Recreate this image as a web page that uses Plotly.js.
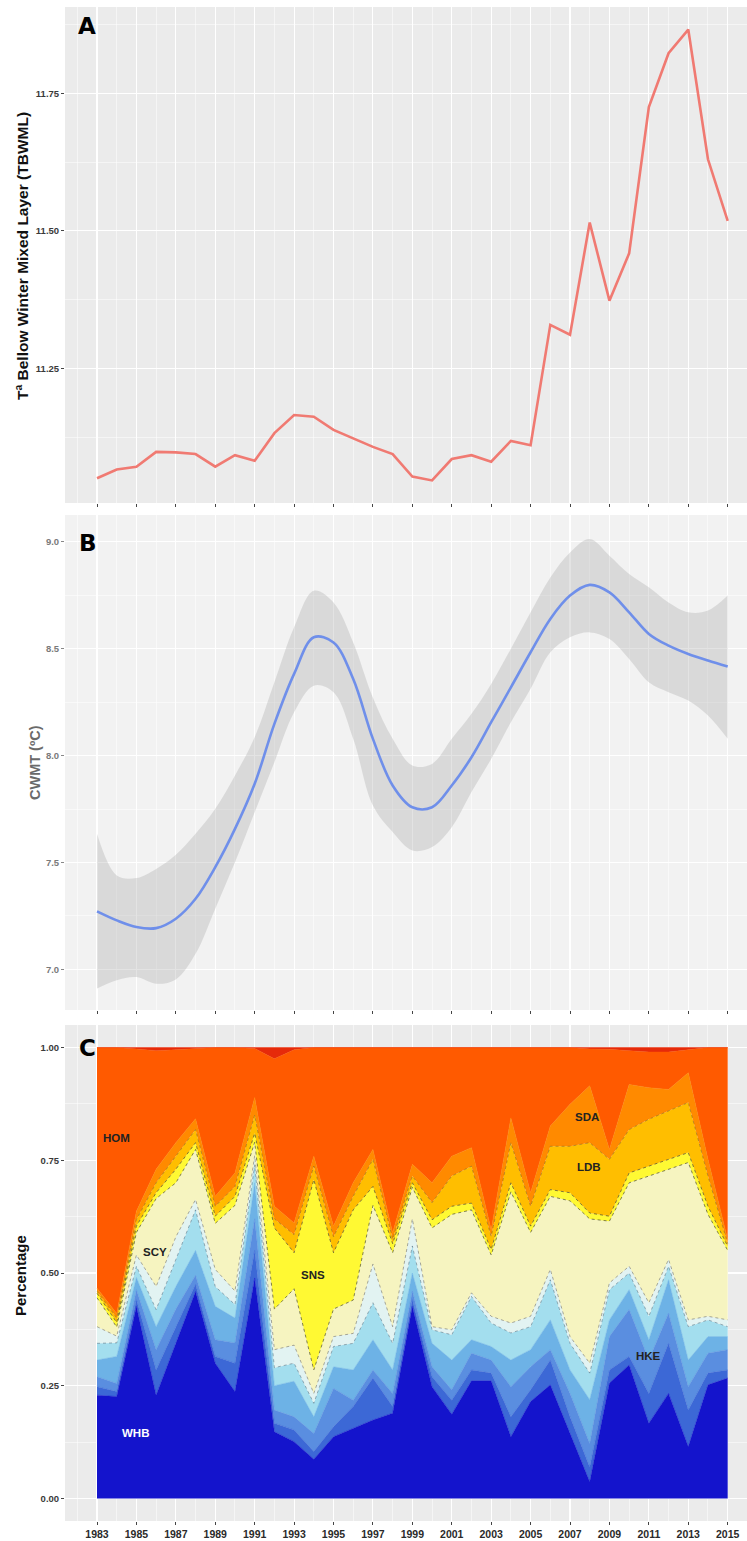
<!DOCTYPE html>
<html>
<head>
<meta charset="utf-8">
<script src="https://cdn.plot.ly/plotly-3.0.1.min.js"></script>
<style>html,body{margin:0;padding:0;background:#fff;}#chart{width:747px;height:1541px;}</style>
</head>
<body>
<div id="chart"></div>
<script>
// ---------- DATA ----------
const years = [1983,1984,1985,1986,1987,1988,1989,1990,1991,1992,1993,1994,1995,1996,1997,1998,1999,2000,2001,2002,2003,2004,2005,2006,2007,2008,2009,2010,2011,2012,2013,2014,2015];
const yearTicks = [1983,1985,1987,1989,1991,1993,1995,1997,1999,2001,2003,2005,2007,2009,2011,2013,2015];

// Panel A: temperature below winter mixed layer
const tbwml = [11.050,11.066,11.071,11.098,11.097,11.094,11.071,11.092,11.082,11.132,11.165,11.162,11.138,11.123,11.107,11.094,11.053,11.046,11.085,11.092,11.080,11.118,11.110,11.329,11.311,11.515,11.373,11.459,11.725,11.823,11.866,11.630,11.518];

// Panel B: CWMT smooth and confidence band
const cwmt = [7.271,7.229,7.198,7.193,7.237,7.330,7.478,7.657,7.868,8.148,8.382,8.553,8.529,8.358,8.078,7.860,7.758,7.758,7.860,7.992,8.156,8.319,8.483,8.639,8.748,8.798,8.763,8.670,8.569,8.514,8.475,8.444,8.416];
const cwmtUpper = [7.634,7.439,7.427,7.470,7.536,7.634,7.751,7.907,8.086,8.343,8.600,8.771,8.716,8.529,8.270,8.078,7.953,7.961,8.078,8.195,8.335,8.500,8.670,8.833,8.950,9.013,8.935,8.849,8.787,8.716,8.670,8.678,8.748];
const cwmtLower = [6.910,6.949,6.964,6.933,6.953,7.073,7.284,7.501,7.735,7.969,8.202,8.327,8.296,8.078,7.766,7.642,7.556,7.572,7.665,7.829,7.984,8.156,8.312,8.483,8.553,8.576,8.545,8.452,8.343,8.296,8.257,8.187,8.078];

// Panel C: cumulative proportions (top edge of each stacked group)
const topWHB   = [.229,.226,.426,.229,.344,.459,.300,.237,.489,.148,.126,.087,.137,.156,.174,.189,.426,.248,.187,.261,.261,.137,.215,.252,.144,.037,.256,.296,.167,.233,.115,.252,.267];
const topBlue2 = [.248,.237,.441,.285,.380,.475,.315,.300,.550,.167,.152,.104,.159,.204,.267,.204,.441,.270,.218,.285,.278,.181,.241,.307,.181,.070,.285,.315,.233,.344,.196,.278,.285];
const topBlue3 = [.270,.255,.463,.330,.420,.495,.352,.345,.620,.196,.181,.144,.244,.218,.285,.233,.460,.292,.241,.322,.307,.248,.292,.330,.233,.122,.359,.419,.307,.411,.248,.322,.330];
const topHKE   = [.307,.315,.490,.381,.470,.550,.426,.400,.700,.250,.260,.181,.292,.285,.352,.285,.500,.344,.307,.352,.337,.307,.330,.396,.285,.219,.396,.463,.352,.485,.307,.359,.359];
const topCyan  = [.344,.345,.515,.419,.530,.640,.470,.430,.740,.290,.300,.211,.337,.344,.434,.344,.560,.374,.363,.448,.389,.367,.381,.485,.344,.278,.463,.500,.404,.515,.381,.396,.381];
const topPale  = [.381,.360,.540,.470,.580,.663,.508,.460,.760,.330,.340,.233,.359,.366,.520,.381,.620,.381,.374,.456,.404,.389,.404,.508,.359,.300,.478,.515,.434,.530,.396,.404,.396];
const topSCY   = [.445,.380,.590,.665,.700,.774,.610,.650,.790,.420,.465,.285,.420,.440,.650,.545,.690,.600,.630,.640,.540,.680,.590,.670,.660,.620,.615,.700,.715,.730,.745,.630,.550];
const topSNS   = [.455,.390,.604,.678,.730,.789,.626,.670,.810,.600,.545,.707,.545,.640,.692,.565,.700,.618,.648,.655,.552,.700,.604,.685,.678,.633,.626,.722,.737,.752,.767,.648,.559];
const topLDB   = [.460,.400,.618,.700,.759,.818,.648,.692,.850,.620,.585,.737,.580,.670,.752,.575,.715,.656,.715,.737,.581,.789,.648,.781,.781,.789,.752,.818,.841,.859,.878,.715,.565];
const topSDA   = [.466,.410,.637,.730,.789,.842,.670,.722,.889,.648,.611,.759,.604,.700,.774,.589,.741,.700,.759,.778,.596,.844,.678,.826,.874,.915,.774,.918,.911,.907,.944,.752,.574];
const topHOM   = [1.0,1.0,.997,.993,.995,.997,1.0,1.0,.998,.975,.995,1.0,1.0,1.0,1.0,1.0,1.0,1.0,1.0,1.0,1.0,1.0,1.0,1.0,1.0,.997,.996,.993,.990,.990,.995,1.0,1.0];
const topAll   = [1,1,1,1,1,1,1,1,1,1,1,1,1,1,1,1,1,1,1,1,1,1,1,1,1,1,1,1,1,1,1,1,1];

const speciesLabels = [
  {text:'HOM', x:1984.0, y:0.80, color:'#222'},
  {text:'SCY', x:1985.95, y:0.547, color:'#222'},
  {text:'SNS', x:1993.96, y:0.496, color:'#222'},
  {text:'WHB', x:1984.93, y:0.145, color:'#ffffff'},
  {text:'SDA', x:2007.86, y:0.847, color:'#222'},
  {text:'LDB', x:2007.96, y:0.736, color:'#222'},
  {text:'HKE', x:2010.96, y:0.316, color:'#222'}
];

// ---------- TRACES ----------
const traces = [];
traces.push({x:years, y:tbwml, type:'scatter', mode:'lines', xaxis:'x', yaxis:'y',
  line:{color:'#F07A72', width:2.6}, hoverinfo:'skip', showlegend:false});

traces.push({x:years, y:cwmtLower, type:'scatter', mode:'lines', xaxis:'x2', yaxis:'y2',
  line:{width:0, shape:'spline', smoothing:1}, showlegend:false, hoverinfo:'skip'});
traces.push({x:years, y:cwmtUpper, type:'scatter', mode:'lines', xaxis:'x2', yaxis:'y2',
  fill:'tonexty', fillcolor:'rgba(150,150,150,0.27)',
  line:{width:0, shape:'spline', smoothing:1}, showlegend:false, hoverinfo:'skip'});
traces.push({x:years, y:cwmt, type:'scatter', mode:'lines', xaxis:'x2', yaxis:'y2',
  line:{color:'#6F8FEA', width:2.6, shape:'spline', smoothing:1}, showlegend:false, hoverinfo:'skip'});

const dotted = {dash:'dot', color:'rgba(70,70,40,0.75)', width:0.9};
const layers = [
  {y:topWHB,   fill:'#1414CC', line:{color:'#1414CC', width:0.5}},
  {y:topBlue2, fill:'#3C68D6', line:{color:'#3C68D6', width:0.5}},
  {y:topBlue3, fill:'#5A8EE0', line:{color:'#5A8EE0', width:0.5}},
  {y:topHKE,   fill:'#6DB2E6', line:{color:'#6DB2E6', width:0.5}},
  {y:topCyan,  fill:'#A3DEEE', line:{dash:'dot', color:'rgba(60,90,110,0.6)', width:0.8}},
  {y:topPale,  fill:'#E2F3F2', line:{dash:'dot', color:'rgba(80,80,80,0.6)', width:0.8}},
  {y:topSCY,   fill:'#F6F4C0', line:dotted},
  {y:topSNS,   fill:'#FFF933', line:dotted},
  {y:topLDB,   fill:'#FFBE00', line:{dash:'dot', color:'rgba(120,90,0,0.6)', width:0.8}},
  {y:topSDA,   fill:'#FF8A00', line:{color:'#FF8A00', width:0.5}},
  {y:topHOM,   fill:'#FF5A00', line:{color:'#FF5A00', width:0.5}},
  {y:topAll,   fill:'#E62A0A', line:{color:'#E62A0A', width:0.5}}
];
layers.forEach((L, i) => {
  traces.push({x:years, y:L.y, type:'scatter', mode:'lines', xaxis:'x3', yaxis:'y3',
    fill: i === 0 ? 'tozeroy' : 'tonexty', fillcolor:L.fill, line:L.line,
    showlegend:false, hoverinfo:'skip'});
});

// ---------- LAYOUT ----------
const W = 747, H = 1541;
const px = v => v / W;
const py = v => 1 - v / H;
const xRange = [1981.376, 2015.98];
const tickFontDark = {family:'Liberation Sans, Arial, sans-serif', size:9.5, color:'#3a3a3a', weight:'bold'};

function xAxis(domainAnchor, showLabels) {
  return {
    domain:[px(65), 1], anchor:domainAnchor, range:xRange,
    tickmode:'array', tickvals:yearTicks, ticktext:yearTicks.map(String),
    showticklabels:showLabels, ticks:'outside', ticklen:3, tickcolor:'#444', tickwidth:1,
    showgrid:true, gridcolor:'#ffffff', gridwidth:1.1,
    minor:{dtick:1, tick0:1983, showgrid:true, gridcolor:'rgba(255,255,255,0.75)', gridwidth:0.7, ticks:''},
    zeroline:false, showline:false,
    tickfont:{family:'Liberation Sans, Arial, sans-serif', size:10.5, color:'#2a2a2a', weight:'bold'}
  };
}

const layout = {
  width:W, height:H, margin:{l:0, r:0, t:0, b:0},
  paper_bgcolor:'#ffffff', plot_bgcolor:'#EBEBEB', showlegend:false,
  xaxis: xAxis('y', false),
  xaxis2: xAxis('y2', false),
  xaxis3: xAxis('y3', true),
  yaxis: {domain:[py(503), py(7)], anchor:'x', range:[11.005, 11.907],
    tickmode:'array', tickvals:[11.25, 11.5, 11.75], tickformat:'.2f',
    ticks:'outside', ticklen:3, tickcolor:'#444', showgrid:true, gridcolor:'#ffffff', gridwidth:1.1,
    minor:{dtick:0.125, tick0:11.125, showgrid:true, gridcolor:'rgba(255,255,255,0.75)', gridwidth:0.7, ticks:''},
    zeroline:false, tickfont:tickFontDark},
  yaxis2: {domain:[py(1010), py(515)], anchor:'x2', range:[6.81, 9.125],
    tickmode:'array', tickvals:[7.0, 7.5, 8.0, 8.5, 9.0], tickformat:'.1f',
    ticks:'outside', ticklen:3, tickcolor:'#888', showgrid:true, gridcolor:'#ffffff', gridwidth:1.1,
    minor:{dtick:0.25, tick0:6.75, showgrid:true, gridcolor:'rgba(255,255,255,0.8)', gridwidth:0.7, ticks:''},
    zeroline:false, tickfont:{family:'Liberation Sans, Arial, sans-serif', size:9.5, color:'#7a7a7a', weight:'bold'}},
  yaxis3: {domain:[py(1521), py(1025)], anchor:'x3', range:[-0.05, 1.05],
    tickmode:'array', tickvals:[0, 0.25, 0.5, 0.75, 1.0], tickformat:'.2f',
    ticks:'outside', ticklen:3, tickcolor:'#444', showgrid:true, gridcolor:'#ffffff', gridwidth:1.1,
    minor:{dtick:0.125, tick0:0.125, showgrid:true, gridcolor:'rgba(255,255,255,0.75)', gridwidth:0.7, ticks:''},
    zeroline:false, tickfont:tickFontDark},
  shapes: [
    {type:'rect', xref:'x2 domain', yref:'y2 domain', x0:0, x1:1, y0:0, y1:1,
     fillcolor:'#F2F2F2', line:{width:0}, layer:'below'}
  ],
  annotations: []
};

// Axis titles
layout.annotations.push({xref:'paper', yref:'paper', x:px(22), y:py(256), text:'Tª Bellow Winter Mixed Layer (TBWML)',
  textangle:-90, showarrow:false, xanchor:'center', yanchor:'middle',
  font:{family:'Liberation Sans, Arial, sans-serif', size:15.5, color:'#111', weight:'bold'}});
layout.annotations.push({xref:'paper', yref:'paper', x:px(35), y:py(763), text:'CWMT (ºC)',
  textangle:-90, showarrow:false, xanchor:'center', yanchor:'middle',
  font:{family:'Liberation Sans, Arial, sans-serif', size:14.5, color:'#6a6a6a', weight:'bold'}});
layout.annotations.push({xref:'paper', yref:'paper', x:px(20), y:py(1276), text:'Percentage',
  textangle:-90, showarrow:false, xanchor:'center', yanchor:'middle',
  font:{family:'Liberation Sans, Arial, sans-serif', size:15, color:'#111', weight:'bold'}});

// Panel letters
[['A', 87, 26], ['B', 88, 543], ['C', 87, 1048]].forEach(([t, x, y]) => {
  layout.annotations.push({xref:'paper', yref:'paper', x:px(x), y:py(y), text:t, showarrow:false,
    xanchor:'center', yanchor:'middle',
    font:{family:'DejaVu Sans, Arial Black, sans-serif', size:23, color:'#000', weight:900}});
});

// Species labels
speciesLabels.forEach(s => {
  layout.annotations.push({xref:'x3', yref:'y3', x:s.x, y:s.y, text:s.text, showarrow:false,
    xanchor:'center', yanchor:'middle',
    font:{family:'Liberation Sans, Arial, sans-serif', size:11.5, color:s.color, weight:'bold'}});
});

Plotly.newPlot('chart', traces, layout, {staticPlot:true, displayModeBar:false});
</script>
</body>
</html>
